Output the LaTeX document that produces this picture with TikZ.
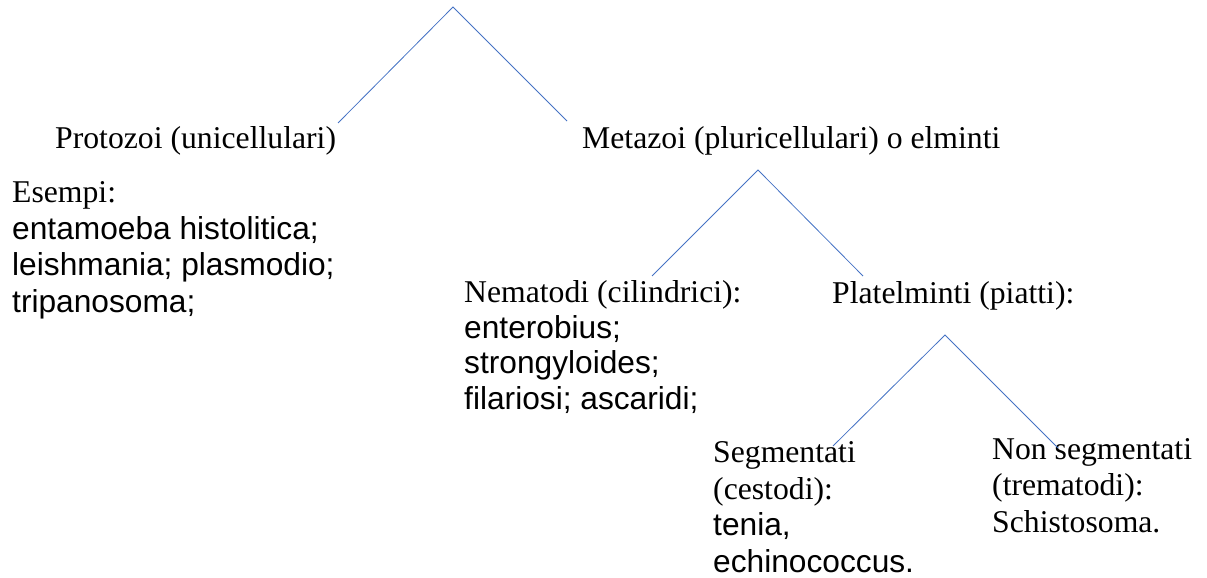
\documentclass[tikz,border=0pt]{standalone}
\usepackage{fontspec}
\setmainfont{Liberation Serif}
\newfontfamily\sansf{Liberation Sans}
\definecolor{linkblue}{HTML}{4472C4}
\begin{document}
\begin{tikzpicture}[x=1pt,y=-1pt,
  lbl/.style={inner sep=0pt,anchor=base west,align=left,
    font=\fontsize{31.7}{36.5}\selectfont},
  link/.style={draw=linkblue,line width=0.8pt}]
\useasboundingbox (0,0) rectangle (1207,578);
% texts (multi-line nodes are placed by the baseline of their last line)
\node[lbl] (proto) at (55,148) {Protozoi (unicellulari)};
\node[lbl] (esempi) at (12,312) {Esempi:\\
  {\sansf entamoeba histolitica;}\\
  {\sansf leishmania; plasmodio;}\\
  {\sansf tripanosoma;}};
\node[lbl] (meta) at (582,148) {Metazoi (pluricellulari) o elminti};
\node[lbl,font=\fontsize{31.7}{35.5}\selectfont] (nema) at (464,409) {Nematodi (cilindrici):\\
  {\sansf enterobius;}\\
  {\sansf strongyloides;}\\
  {\sansf filariosi; ascaridi;}};
\node[lbl] (plat) at (832,303) {Platelminti (piatti):};
\node[lbl] (segm) at (713,572) {Segmentati\\
  (cestodi):\\
  {\sansf tenia,}\\
  {\sansf echinococcus.}};
\node[lbl] (nonsegm) at (992,532) {Non segmentati\\
  (trematodi):\\
  Schistosoma.};
% branch points
\coordinate (topapex) at (453,7);
\coordinate (topL) at (338,123);
\coordinate (topR) at (567,121);
\coordinate (midapex) at (758,170);
\coordinate (midL) at (652,276);
\coordinate (midR) at (863,276);
\coordinate (lowapex) at (945,335);
\coordinate (lowL) at (833,446);
\coordinate (lowR) at (1058,448);
\draw[link] (topL) -- (topapex) -- (topR);
\draw[link] (midL) -- (midapex) -- (midR);
\draw[link] (lowL) -- (lowapex) -- (lowR);
\end{tikzpicture}
\end{document}
